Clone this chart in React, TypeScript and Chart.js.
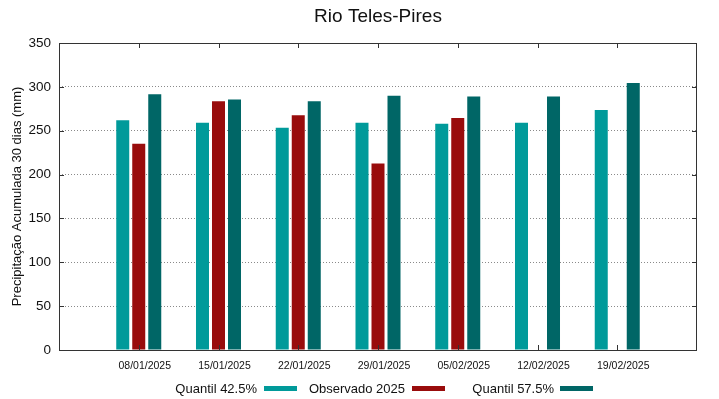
import React, { useEffect, useRef } from "react";
import { Chart, registerables } from "chart.js";

Chart.register(...registerables);

const title = "Rio Teles-Pires";
const yTitle = "Precipitação Acumulada 30 dias (mm)";
const dates = ["08/01/2025", "15/01/2025", "22/01/2025", "29/01/2025", "05/02/2025", "12/02/2025", "19/02/2025"];
const q425 = [262, 259, 253.5, 259, 258, 259, 273.5];
const obs2025: (number | null)[] = [235, 283.5, 267.5, 212.5, 264.5, null, null];
const q575 = [291.5, 285.5, 283.5, 290, 289, 289, 304.5];
const seriesNames = ["Quantil 42.5%", "Observado 2025", "Quantil 57.5%"];
const colors = ["#009a9a", "#990c0c", "#006666"];
const yTicks = [0, 50, 100, 150, 200, 250, 300, 350];

const FONT = "'Liberation Sans', Arial, sans-serif";

const decor = {
  id: "decor",
  afterDraw(chart: any) {
    const { ctx, chartArea } = chart;
    const { left, right, top, bottom } = chartArea;
    const xs = chart.scales.x;
    const ys = chart.scales.y;
    ctx.save();
    ctx.strokeStyle = "#333";
    ctx.lineWidth = 1;
    ctx.strokeRect(Math.round(left) + 0.5, Math.round(top) + 0.5, Math.round(right - left) - 1, Math.round(bottom - top));
    ctx.beginPath();
    yTicks.forEach((v) => {
      const y = Math.round(ys.getPixelForValue(v)) + 0.5;
      ctx.moveTo(left, y);
      ctx.lineTo(left + 5, y);
      ctx.moveTo(right, y);
      ctx.lineTo(right - 5, y);
    });
    dates.forEach((_, i) => {
      const x = Math.round(xs.getPixelForValue(i)) + 0.5;
      ctx.moveTo(x, bottom);
      ctx.lineTo(x, bottom - 5);
      ctx.moveTo(x, top);
      ctx.lineTo(x, top + 5);
    });
    ctx.stroke();
    ctx.fillStyle = "#111";
    ctx.font = `19px ${FONT}`;
    ctx.textAlign = "center";
    ctx.textBaseline = "alphabetic";
    ctx.fillText(title, (left + right) / 2, 22);
    ctx.save();
    ctx.translate(21, (top + bottom) / 2);
    ctx.rotate(-Math.PI / 2);
    ctx.font = `13px ${FONT}`;
    ctx.fillText(yTitle, 0, 0);
    ctx.restore();
    const textEnds = [257, 405, 554];
    const swatchX = [264, 412, 560];
    ctx.font = `13px ${FONT}`;
    ctx.textAlign = "right";
    seriesNames.forEach((name, i) => {
      ctx.fillStyle = "#111";
      ctx.fillText(name, textEnds[i], 393);
      ctx.fillStyle = colors[i];
      ctx.fillRect(swatchX[i], 386, 33, 5);
    });
    ctx.restore();
  },
};

export default function App() {
  const ref = useRef<HTMLCanvasElement>(null);
  useEffect(() => {
    document.body.style.margin = "0";
    const mk = (vals: (number | null)[]) => vals.map((v, i) => ({ x: i, y: v }));
    const chart = new Chart(ref.current!, {
      type: "bar",
      data: {
        datasets: [q425, obs2025, q575].map((vals, i) => ({
          label: seriesNames[i],
          data: mk(vals) as any,
          backgroundColor: colors[i],
          borderWidth: 0,
          categoryPercentage: 0.602,
          barPercentage: 0.8125,
        })),
      },
      options: {
        responsive: false,
        animation: false,
        layout: { padding: { top: 43, right: 22, left: 0, bottom: 0 } },
        plugins: { legend: { display: false }, title: { display: false }, tooltip: { enabled: false } },
        scales: {
          x: {
            type: "linear",
            min: -1,
            max: 7,
            offset: false,
            grid: { display: false, drawTicks: false },
            border: { display: false },
            afterFit: (s: any) => { s.height = 49; },
            ticks: {
              stepSize: 1,
              autoSkip: false,
              maxRotation: 0,
              padding: 10,
              labelOffset: 6,
              color: "#111",
              font: { family: FONT, size: 10.5 },
              callback: (v: any) => (dates[v as number] ?? ""),
            },
          },
          y: {
            min: 0,
            max: 350,
            afterFit: (s: any) => { s.width = 59; },
            border: { display: false, dash: [1, 2] },
            grid: {
              drawTicks: false,
              color: (c: any) => (c.tick && (c.tick.value === 0 || c.tick.value === 350) ? "rgba(0,0,0,0)" : "#8a8a8a"),
              lineWidth: 1,
            },
            ticks: {
              stepSize: 50,
              padding: 8,
              color: "#111",
              font: { family: FONT, size: 13.5 },
            },
          },
        },
      },
      plugins: [decor],
    } as any);
    return () => chart.destroy();
  }, []);
  return <canvas ref={ref} width={719} height={399} />;
}
